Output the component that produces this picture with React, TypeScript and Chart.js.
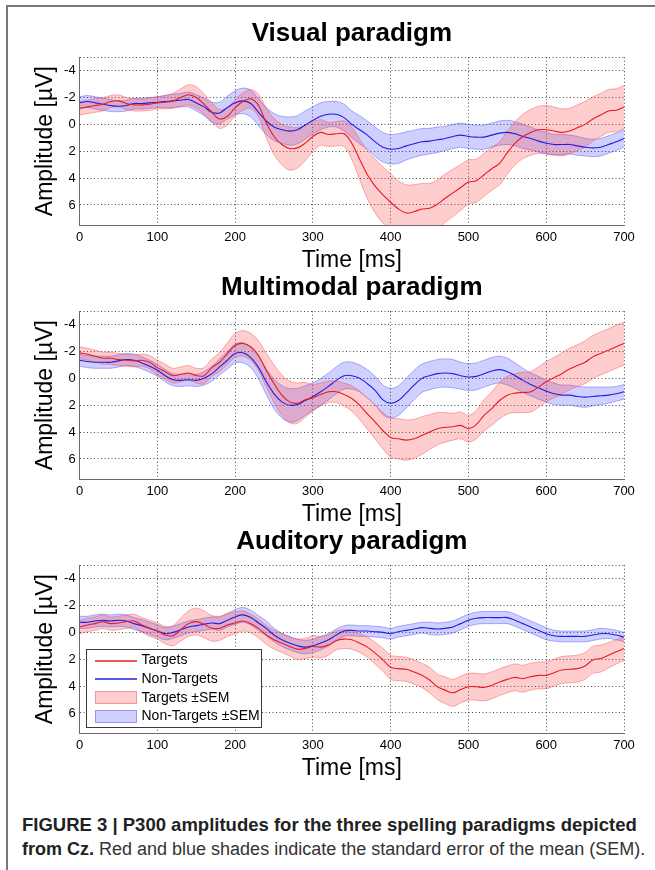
import React, { useEffect, useRef } from "react";
import { Chart, registerables } from "chart.js";

Chart.register(...registerables);

const FONT = '"Liberation Sans", Arial, Helvetica, sans-serif';

// ---------- data ----------
const TIME = [
  0, 10, 20, 30, 40, 50, 60, 70, 80, 90, 100, 110, 120, 130, 140, 150, 160, 170, 180, 190, 200,
  210, 220, 230, 240, 250, 260, 270, 280, 290, 300, 310, 320, 330, 340, 350, 360, 370, 380, 390, 400,
  410, 420, 430, 440, 450, 460, 470, 480, 490, 500, 510, 520, 530, 540, 550, 560, 570, 580, 590, 600,
  610, 620, 630, 640, 650, 660, 670, 680, 690, 700,
];
const X_TICKS = [0, 100, 200, 300, 400, 500, 600, 700];
const Y_TICKS = [-4, -2, 0, 2, 4, 6];
const Y_MIN = -5;
const Y_MAX = 7.5;

const PANEL_TITLES = ["Visual paradigm", "Multimodal paradigm", "Auditory paradigm"];
const SERIES_NAMES = ["Targets", "Non-Targets", "Targets ±SEM", "Non-Targets ±SEM"];

const VIS_TARGET = [
  -1.2, -1.3, -1.4, -1.5, -1.7, -1.75, -1.55, -1.45, -1.45, -1.5, -1.6,
  -1.65, -1.75, -2.0, -2.2, -2.0,
  -1.5, -0.9, -0.4, -0.6, -1.25, -1.7, -1.9,
  -1.4, -0.1, 0.9, 1.5, 1.8, 1.75, 1.4, 0.9,
  0.6, 0.75, 0.7, 0.7, 1.4,
  2.6, 3.75, 4.6, 5.25, 5.8, 6.3, 6.6,
  6.5, 6.3, 6.25, 5.95, 5.5, 5.1, 4.7, 4.3,
  4.2, 3.75, 3.3, 2.9, 2.1, 1.4, 0.9, 0.6, 0.4, 0.4,
  0.5, 0.6, 0.5, 0.25, 0.0, -0.4, -0.7, -1.0, -1.05, -1.3,
];
const VIS_NONTARGET = [
  -1.6, -1.7, -1.6, -1.5, -1.4, -1.35, -1.4, -1.55, -1.55, -1.6, -1.65,
  -1.7, -1.75, -1.8, -1.85, -1.6,
  -1.3, -0.9, -0.85, -1.25, -1.6, -1.75, -1.55,
  -0.9, -0.25, 0.2, 0.4, 0.5, 0.4, 0.05, -0.3,
  -0.6, -0.75, -0.75, -0.5, 0.0,
  0.4, 0.8, 1.3, 1.7, 1.85, 1.8, 1.6,
  1.45, 1.3, 1.25, 1.15, 1.05, 0.9, 0.8, 0.9,
  0.95, 0.95, 0.8, 0.65, 0.6, 0.7, 0.9, 1.05, 1.25, 1.4,
  1.5, 1.5, 1.5, 1.6, 1.7, 1.75, 1.7, 1.5, 1.3, 1.05,
];
const VIS_TARGET_SEM = [
  0.5, 0.5, 0.5, 0.5, 0.45, 0.45, 0.45, 0.45, 0.45, 0.45, 0.45,
  0.5, 0.55, 0.65, 0.75, 0.8,
  0.75, 0.7, 0.7, 0.65, 0.6, 0.65, 0.7,
  0.85, 1.1, 1.35, 1.5, 1.6, 1.5, 1.3, 1.1,
  0.95, 0.9, 0.9, 0.95, 1.2,
  1.5, 1.8, 2.0, 2.1, 2.1, 2.1, 2.1,
  2.0, 1.9, 1.85, 1.8, 1.8, 1.75, 1.7, 1.65,
  1.6, 1.6, 1.6, 1.6, 1.6, 1.6, 1.65, 1.7, 1.75, 1.8,
  1.8, 1.75, 1.7, 1.7, 1.7, 1.65, 1.6, 1.6, 1.6, 1.6,
];
const VIS_NONTARGET_SEM = [
  0.45, 0.45, 0.45, 0.45, 0.45, 0.4, 0.4, 0.4, 0.4, 0.4, 0.4,
  0.45, 0.5, 0.5, 0.55, 0.6,
  0.65, 0.75, 0.8, 0.85, 0.9, 0.95, 1.0,
  1.0, 1.0, 1.0, 1.0, 1.05, 1.05, 1.05, 1.0,
  1.0, 0.95, 0.95, 1.0, 1.0,
  1.05, 1.05, 1.1, 1.1, 1.1, 1.1, 1.05,
  1.0, 1.0, 0.95, 0.95, 0.9, 0.9, 0.9, 0.9,
  0.9, 0.9, 0.9, 0.9, 0.9, 0.9, 0.9, 0.85, 0.8, 0.8,
  0.75, 0.75, 0.7, 0.7, 0.65, 0.65, 0.65, 0.65, 0.65, 0.65,
];

const MULTI_TARGET = [
  -1.9, -1.8, -1.65, -1.5, -1.5, -1.4, -1.35, -1.3, -1.35, -1.2, -0.8,
  -0.5, -0.2, -0.3, -0.4, -0.2,
  -0.2, -0.8, -1.2, -1.85, -2.45, -2.6, -2.35,
  -1.7, -0.6, 0.4, 1.25, 1.75, 1.85, 1.6, 1.45,
  1.2, 1.0, 1.0, 1.2, 1.5,
  2.0, 2.65, 3.25, 3.9, 4.4, 4.5, 4.6,
  4.5, 4.25, 4.0, 3.75, 3.65, 3.6, 3.5, 3.75,
  3.45, 2.75, 2.25, 1.65, 1.25, 1.1, 1.05, 1.0, 0.65, 0.25,
  -0.05, -0.35, -0.7, -0.95, -1.2, -1.6, -1.85, -2.1, -2.35, -2.6,
];
const MULTI_NONTARGET = [
  -1.35, -1.25, -1.2, -1.2, -1.2, -1.3, -1.4, -1.35, -1.15, -0.9, -0.6,
  -0.2, 0.1, 0.15, 0.1, 0.15,
  0.0, -0.35, -0.85, -1.35, -1.85, -1.9, -1.55,
  -0.8, 0.25, 1.15, 1.75, 2.0, 1.95, 1.65, 1.35,
  1.0, 0.6, 0.15, -0.2, -0.2,
  0.0, 0.4, 0.9, 1.6, 1.85, 1.65, 1.1,
  0.5, 0.0, -0.2, -0.35, -0.4, -0.35, -0.2, -0.1,
  -0.15, -0.35, -0.55, -0.65, -0.5, -0.2, 0.15, 0.45, 0.7, 0.95,
  1.15, 1.25, 1.25, 1.35, 1.4, 1.35, 1.3, 1.25, 1.15, 1.0,
];
const MULTI_TARGET_SEM = [
  0.45, 0.45, 0.45, 0.45, 0.45, 0.45, 0.45, 0.45, 0.45, 0.5, 0.55,
  0.55, 0.55, 0.55, 0.55, 0.55,
  0.6, 0.65, 0.7, 0.8, 0.9, 0.95, 1.0,
  1.1, 1.25, 1.4, 1.5, 1.55, 1.5, 1.3, 1.0,
  0.85, 0.8, 0.8, 0.85, 0.95,
  1.05, 1.15, 1.25, 1.35, 1.45, 1.5, 1.5,
  1.45, 1.4, 1.3, 1.2, 1.1, 1.0, 1.0, 1.0,
  1.05, 1.15, 1.25, 1.35, 1.4, 1.45, 1.5, 1.5, 1.5, 1.5,
  1.5, 1.55, 1.55, 1.55, 1.6, 1.6, 1.6, 1.6, 1.6, 1.6,
];
const MULTI_NONTARGET_SEM = [
  0.45, 0.45, 0.45, 0.45, 0.45, 0.45, 0.45, 0.45, 0.45, 0.45, 0.45,
  0.45, 0.45, 0.45, 0.45, 0.45,
  0.5, 0.55, 0.6, 0.65, 0.7, 0.75, 0.75,
  0.85, 0.95, 1.1, 1.2, 1.25, 1.2, 1.1, 1.0,
  1.0, 1.0, 1.0, 1.0, 1.0,
  1.0, 1.05, 1.05, 1.1, 1.1, 1.1, 1.1,
  1.1, 1.05, 1.05, 1.05, 1.05, 1.05, 1.0, 1.0,
  1.0, 1.0, 1.0, 1.0, 1.0, 0.95, 0.9, 0.85, 0.85, 0.8,
  0.8, 0.75, 0.75, 0.75, 0.75, 0.7, 0.65, 0.6, 0.55, 0.55,
];

const AUD_TARGET = [
  -0.4, -0.55, -0.65, -0.8, -0.65, -0.7, -0.8, -0.85, -0.55, -0.3, -0.1,
  0.2, 0.25, -0.2, -0.65, -0.8,
  -0.6, -0.3, -0.3, -0.55, -0.7, -0.85, -0.65,
  -0.3, 0.2, 0.55, 0.8, 1.05, 1.25, 1.2, 1.05,
  1.1, 0.95, 0.6, 0.5, 0.55,
  0.8, 1.1, 1.55, 2.05, 2.6, 2.7, 2.75,
  2.95, 3.2, 3.55, 4.05, 4.3, 4.5, 4.25, 4.05,
  4.05, 4.1, 3.95, 3.7, 3.5, 3.35, 3.45, 3.3, 3.2, 3.2,
  3.0, 2.8, 2.75, 2.7, 2.5, 2.05, 1.95, 1.7, 1.45, 1.2,
];
const AUD_NONTARGET = [
  -0.75, -0.75, -0.85, -0.9, -0.85, -0.9, -0.85, -0.65, -0.5, -0.3, -0.1,
  0.1, 0.0, -0.2, -0.4, -0.5,
  -0.6, -0.7, -0.65, -0.9, -1.15, -1.3, -1.1,
  -0.7, -0.3, 0.2, 0.55, 0.8, 1.0, 1.1, 1.0,
  0.8, 0.55, 0.2, -0.1, -0.15,
  -0.1, -0.1, -0.05, 0.0, 0.1, -0.05, -0.15,
  -0.25, -0.35, -0.3, -0.25, -0.3, -0.4, -0.65, -0.9,
  -1.05, -1.1, -1.1, -1.1, -1.1, -0.9, -0.65, -0.4, -0.15, 0.1,
  0.25, 0.3, 0.3, 0.3, 0.3, 0.2, 0.1, 0.1, 0.2, 0.35,
];
const AUD_TARGET_SEM = [
  0.5, 0.5, 0.5, 0.5, 0.5, 0.5, 0.5, 0.5, 0.55, 0.6, 0.6,
  0.65, 0.75, 0.85, 0.95, 1.0,
  1.0, 0.95, 0.9, 0.85, 0.8, 0.75, 0.7,
  0.7, 0.7, 0.7, 0.7, 0.7, 0.75, 0.75, 0.8,
  0.8, 0.75, 0.7, 0.7, 0.7,
  0.7, 0.75, 0.8, 0.85, 0.9, 0.9, 0.9,
  0.9, 0.9, 0.95, 0.95, 1.0, 1.0, 1.0, 1.0,
  1.0, 1.0, 1.0, 1.0, 1.0, 1.0, 1.0, 1.0, 1.0, 1.0,
  1.0, 1.0, 1.0, 1.0, 1.0, 1.0, 1.0, 0.95, 0.9, 0.9,
];
const AUD_NONTARGET_SEM = [
  0.45, 0.45, 0.45, 0.45, 0.45, 0.45, 0.45, 0.45, 0.45, 0.45, 0.45,
  0.45, 0.45, 0.45, 0.45, 0.45,
  0.45, 0.45, 0.5, 0.5, 0.55, 0.55, 0.55,
  0.55, 0.55, 0.5, 0.5, 0.5, 0.5, 0.5, 0.5,
  0.5, 0.45, 0.45, 0.4, 0.4,
  0.4, 0.4, 0.4, 0.4, 0.4, 0.4, 0.4,
  0.4, 0.4, 0.45, 0.45, 0.45, 0.45, 0.45, 0.45,
  0.45, 0.45, 0.45, 0.45, 0.45, 0.45, 0.45, 0.45, 0.45, 0.45,
  0.4, 0.4, 0.4, 0.4, 0.4, 0.4, 0.4, 0.35, 0.35, 0.35,
];

// ---------- styles ----------
const RED_LINE = "rgb(235,25,35)";
const BLUE_LINE = "rgb(30,30,230)";
const RED_FILL = "rgba(250,60,60,0.26)";
const BLUE_FILL = "rgba(60,60,250,0.24)";
const RED_EDGE = "rgba(245,80,80,0.45)";
const BLUE_EDGE = "rgba(80,80,245,0.45)";
const GRID_COLOR = "rgba(40,40,40,0.85)";
const AXIS_COLOR = "#6a6a6a";

// legend entry styles, same order as SERIES_NAMES
const LEGEND_KIND = ["line", "line", "patch", "patch"];
const LEGEND_MAIN = [RED_LINE, BLUE_LINE, RED_FILL, BLUE_FILL];
const LEGEND_EDGE = [RED_LINE, BLUE_LINE, RED_EDGE, BLUE_EDGE];

const insideLegend = {
  id: "insideLegend",
  afterDatasetsDraw(chart: any, _args: any, opts: any) {
    if (!opts || !opts.display) return;
    const ctx = chart.ctx;
    const area = chart.chartArea;
    const labels: string[] = SERIES_NAMES.filter((n) =>
      chart.data.datasets.some((d: any) => d.label === n)
    );
    ctx.save();
    ctx.font = `14px ${FONT}`;
    let tw = 0;
    labels.forEach((l) => {
      tw = Math.max(tw, ctx.measureText(l).width);
    });
    const x0 = Math.round(area.left + 6.5);
    const h = 78;
    const w = Math.round(55 + tw + 2);
    const y0 = Math.round(area.bottom - 6.5 - h);
    ctx.fillStyle = "#ffffff";
    ctx.fillRect(x0, y0, w, h);
    ctx.strokeStyle = "#3a3a3a";
    ctx.lineWidth = 1;
    ctx.strokeRect(x0 + 0.5, y0 + 0.5, w, h);
    labels.forEach((label, i) => {
      const k = SERIES_NAMES.indexOf(label);
      const y = y0 + 11.5 + i * 18.7;
      if (LEGEND_KIND[k] === "line") {
        ctx.strokeStyle = LEGEND_MAIN[k];
        ctx.lineWidth = 1.6;
        ctx.beginPath();
        ctx.moveTo(x0 + 9, Math.round(y));
        ctx.lineTo(x0 + 51, Math.round(y));
        ctx.stroke();
      } else {
        ctx.fillStyle = LEGEND_MAIN[k];
        ctx.fillRect(x0 + 9, Math.round(y - 6.5), 42, 13);
        ctx.strokeStyle = LEGEND_EDGE[k];
        ctx.lineWidth = 1;
        ctx.strokeRect(x0 + 9.5, Math.round(y - 6.5) + 0.5, 41, 12);
      }
      ctx.fillStyle = "#000000";
      ctx.textBaseline = "middle";
      ctx.textAlign = "left";
      ctx.fillText(label, x0 + 55.5, y);
    });
    ctx.restore();
  },
};

function pts(values: number[]) {
  return TIME.map((t, i) => ({ x: t, y: values[i] }));
}
function band(values: number[], sem: number[], sign: number) {
  return TIME.map((t, i) => ({ x: t, y: values[i] + sign * sem[i] }));
}

type PanelProps = {
  title: string;
  target: number[];
  nontarget: number[];
  targetSem: number[];
  nontargetSem: number[];
  legend: boolean;
  top: number;
};

function Panel(p: PanelProps) {
  const ref = useRef<HTMLCanvasElement | null>(null);
  useEffect(() => {
    if (!ref.current) return;
    const tension = 0.35;
    const chart = new Chart(ref.current, {
      type: "line",
      data: {
        datasets: [
          {
            label: SERIES_NAMES[0],
            data: pts(p.target),
            borderColor: RED_LINE,
            borderWidth: 1.1,
            pointRadius: 0,
            tension,
            fill: false,
          },
          {
            label: SERIES_NAMES[1],
            data: pts(p.nontarget),
            borderColor: BLUE_LINE,
            borderWidth: 1.1,
            pointRadius: 0,
            tension,
            fill: false,
          },
          {
            label: "Targets upper",
            data: band(p.target, p.targetSem, -1),
            borderColor: RED_EDGE,
            borderWidth: 1,
            pointRadius: 0,
            tension,
            fill: false,
          },
          {
            label: SERIES_NAMES[2],
            data: band(p.target, p.targetSem, 1),
            borderColor: RED_EDGE,
            backgroundColor: RED_FILL,
            borderWidth: 1,
            pointRadius: 0,
            tension,
            fill: "-1",
          },
          {
            label: "Non-Targets upper",
            data: band(p.nontarget, p.nontargetSem, -1),
            borderColor: BLUE_EDGE,
            borderWidth: 1,
            pointRadius: 0,
            tension,
            fill: false,
          },
          {
            label: SERIES_NAMES[3],
            data: band(p.nontarget, p.nontargetSem, 1),
            borderColor: BLUE_EDGE,
            backgroundColor: BLUE_FILL,
            borderWidth: 1,
            pointRadius: 0,
            tension,
            fill: "-1",
          },
        ],
      },
      options: {
        animation: false,
        responsive: false,
        devicePixelRatio: 1,
        events: [],
        layout: { padding: { left: 28, right: 31, top: 0, bottom: 7.5 } },
        plugins: {
          legend: { display: false },
          tooltip: { enabled: false },
          title: {
            display: true,
            text: p.title,
            fullSize: false,
            color: "#000",
            font: { family: FONT, size: 26, weight: "bold", lineHeight: 1.2 },
            padding: { top: 18.4, bottom: 7.6 },
          },
          insideLegend: { display: p.legend },
        } as any,
        scales: {
          x: {
            type: "linear",
            min: X_TICKS[0],
            max: X_TICKS[X_TICKS.length - 1],
            afterBuildTicks: (s: any) => {
              s.ticks = X_TICKS.map((v) => ({ value: v }));
            },
            ticks: {
              color: "#000",
              font: { family: FONT, size: 13, lineHeight: 1.2 },
              padding: 5,
              maxRotation: 0,
              autoSkip: false,
              callback: (v: any) => String(v),
            },
            grid: { color: GRID_COLOR, lineWidth: 1, drawTicks: false },
            border: { display: true, color: AXIS_COLOR, width: 1, dash: [1, 2.5] },
            title: {
              display: true,
              text: "Time [ms]",
              color: "#000",
              font: { family: FONT, size: 23, lineHeight: 1.0 },
              padding: { top: -1.2, bottom: 0 },
            },
          },
          y: {
            type: "linear",
            reverse: true,
            min: Y_MIN,
            max: Y_MAX,
            afterBuildTicks: (s: any) => {
              s.ticks = [Y_MIN, ...Y_TICKS].map((v) => ({ value: v }));
            },
            ticks: {
              color: "#000",
              font: { family: FONT, size: 13, lineHeight: 1.2 },
              padding: 4,
              autoSkip: false,
              callback: (v: any) => (v === Y_MIN ? "" : String(v)),
            },
            grid: { color: GRID_COLOR, lineWidth: 1, drawTicks: false },
            border: { display: true, color: AXIS_COLOR, width: 1, dash: [1, 2.5] },
            title: {
              display: true,
              text: "Amplitude [µV]",
              color: "#000",
              font: { family: FONT, size: 23, lineHeight: 1.2 },
              padding: { top: 3.7, bottom: 0.8 },
            },
          },
        },
      } as any,
      plugins: [insideLegend as any],
    });
    return () => chart.destroy();
  }, []);
  return (
    <canvas
      ref={ref}
      width={655}
      height={280}
      style={{ position: "absolute", left: 0, top: p.top, width: 655, height: 280 }}
    />
  );
}

export default function App() {
  return (
    <div
      style={{
        position: "absolute",
        left: 0,
        top: 0,
        width: 655,
        height: 870,
        overflow: "hidden",
        background: "#fff",
      }}
    >
      <div
        style={{
          position: "absolute",
          left: 6,
          top: 5,
          width: 720,
          height: 940,
          borderTop: "2px solid #777",
          borderLeft: "2px solid #777",
        }}
      />
      <Panel
        title={PANEL_TITLES[0]}
        target={VIS_TARGET}
        nontarget={VIS_NONTARGET}
        targetSem={VIS_TARGET_SEM}
        nontargetSem={VIS_NONTARGET_SEM}
        legend={false}
        top={0}
      />
      <Panel
        title={PANEL_TITLES[1]}
        target={MULTI_TARGET}
        nontarget={MULTI_NONTARGET}
        targetSem={MULTI_TARGET_SEM}
        nontargetSem={MULTI_NONTARGET_SEM}
        legend={false}
        top={254}
      />
      <Panel
        title={PANEL_TITLES[2]}
        target={AUD_TARGET}
        nontarget={AUD_NONTARGET}
        targetSem={AUD_TARGET_SEM}
        nontargetSem={AUD_NONTARGET_SEM}
        legend={true}
        top={508}
      />
      <div
        style={{
          position: "absolute",
          left: 22,
          top: 812,
          fontFamily: FONT,
          fontSize: 18,
          lineHeight: "25px",
          color: "#222",
          whiteSpace: "nowrap",
        }}
      >
        <div style={{ fontWeight: "bold", fontSize: 18.5 }}>
          FIGURE 3 | P300 amplitudes for the three spelling paradigms depicted
        </div>
        <div style={{ color: "#333" }}>
          <b style={{ color: "#222" }}>from Cz.</b> Red and blue shades indicate the standard error of
          the mean (SEM).
        </div>
      </div>
    </div>
  );
}
